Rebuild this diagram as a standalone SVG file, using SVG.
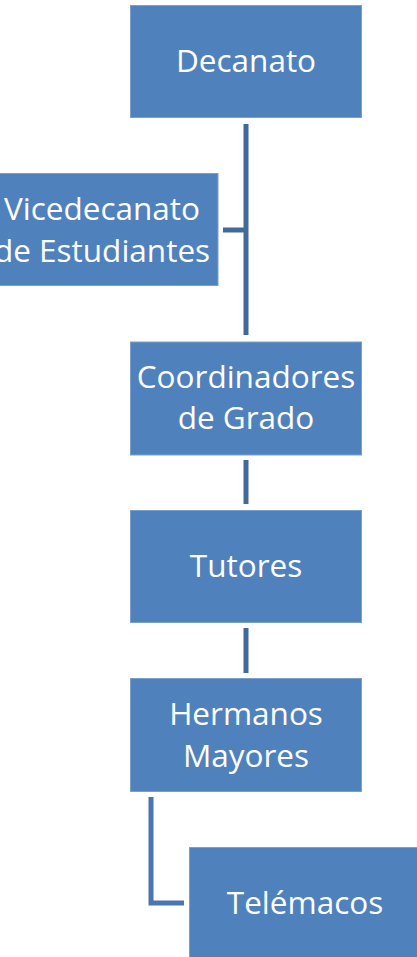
<svg xmlns="http://www.w3.org/2000/svg" width="417" height="957" viewBox="0 0 417 957">
<style>
.box{fill:#4f81bd;stroke:#7a9fcc;stroke-width:1}
.t{font-family:"Open Sans","Liberation Sans",sans-serif;font-size:31.5px;fill:#ffffff;text-anchor:middle}
.c{fill:none;stroke:#41699c;stroke-width:5}
</style>
<rect width="417" height="957" fill="#ffffff"/>
<g id="connectors">
<path class="c" d="M246 124V335"/>
<path class="c" d="M223 230H246"/>
<path class="c" d="M246 460V504"/>
<path class="c" d="M246 628V673"/>
<path class="c" d="M151 797V903H184" style="stroke:#4a75ae"/>
</g>
<g id="decanato"><rect class="box" x="130.5" y="5.5" width="231" height="112"/><text class="t" x="246" y="72">Decanato</text></g>
<g id="vicedecanato"><rect class="box" x="-14" y="173.5" width="232" height="112"/><text class="t" x="102" y="220">Vicedecanato</text><text class="t" x="102" y="262">de Estudiantes</text></g>
<g id="coordinadores"><rect class="box" x="130.5" y="342" width="231" height="113"/><text class="t" x="246" y="388">Coordinadores</text><text class="t" x="246" y="429">de Grado</text></g>
<g id="tutores"><rect class="box" x="130.5" y="510.5" width="231" height="112"/><text class="t" x="246" y="577">Tutores</text></g>
<g id="hermanos"><rect class="box" x="130.5" y="678.5" width="231" height="113"/><text class="t" x="246" y="725">Hermanos</text><text class="t" x="246" y="767">Mayores</text></g>
<g id="telemacos"><rect class="box" x="189.5" y="847.5" width="232" height="113"/><text class="t" x="305" y="914">Telémacos</text></g>
</svg>
